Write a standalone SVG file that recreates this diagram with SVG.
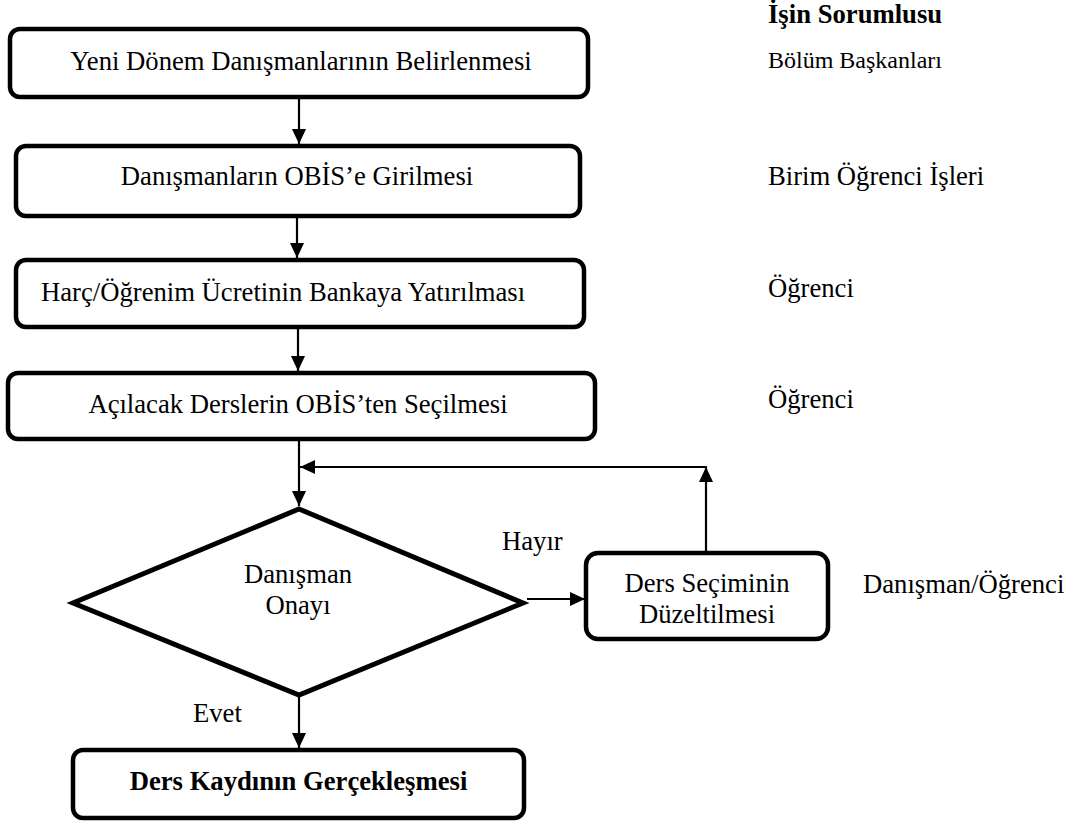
<svg xmlns="http://www.w3.org/2000/svg" width="1079" height="825" viewBox="0 0 1079 825" font-family="Liberation Serif, Times New Roman, serif">
<style>
.box{fill:#fff;stroke:#000;stroke-width:4.5}
.dia{fill:#fff;stroke:#000;stroke-width:5;stroke-linejoin:miter}
.t{font-family:'Liberation Serif','Times New Roman',Times,serif;font-size:26.67px;fill:#000}
.m{text-anchor:middle}
.b{font-weight:bold}
.s{font-size:24px}
.c{fill:none;stroke:#000;stroke-width:2.2}
</style>
<defs>
<marker id="ah" markerUnits="userSpaceOnUse" markerWidth="15" markerHeight="14" refX="15" refY="7" orient="auto">
<path d="M0,0 L15,7 L0,14 z" fill="#000"/>
</marker>
</defs>
<rect width="1079" height="825" fill="#fff"/>

<g id="connectors">
<line class="c" x1="299" y1="97" x2="299" y2="144" marker-end="url(#ah)"/>
<line class="c" x1="297" y1="216" x2="297" y2="258" marker-end="url(#ah)"/>
<line class="c" x1="298" y1="327" x2="298" y2="371" marker-end="url(#ah)"/>
<line class="c" x1="299" y1="440" x2="299" y2="506" marker-end="url(#ah)"/>
<line class="c" x1="706" y1="552" x2="706" y2="467" marker-end="url(#ah)"/>
<line class="c" x1="707" y1="467" x2="300" y2="467" marker-end="url(#ah)"/>
<line class="c" x1="527" y1="599" x2="585" y2="599" marker-end="url(#ah)"/>
<line class="c" x1="299" y1="696" x2="299" y2="748" marker-end="url(#ah)"/>
</g>

<g id="n1">
<rect class="box" x="10" y="29" width="578" height="68" rx="10"/>
<text class="t m" x="301" y="70">Yeni Dönem Danışmanlarının Belirlenmesi</text>
</g>
<g id="n2">
<rect class="box" x="16" y="146" width="564" height="70" rx="10"/>
<text class="t m" x="297" y="185">Danışmanların OBİS’e Girilmesi</text>
</g>
<g id="n3">
<rect class="box" x="16" y="260" width="568" height="67" rx="10"/>
<text class="t" x="41" y="301">Harç/Öğrenim Ücretinin Bankaya Yatırılması</text>
</g>
<g id="n4">
<rect class="box" x="8" y="373" width="587" height="66" rx="10"/>
<text class="t m" x="298" y="413">Açılacak Derslerin OBİS’ten Seçilmesi</text>
</g>
<g id="n5">
<polygon class="dia" points="299,509 523,603 299,695 73,603"/>
<text class="t m" x="298" y="583">Danışman</text>
<text class="t m" x="298" y="614">Onayı</text>
</g>
<g id="n6">
<rect class="box" x="586" y="553" width="242" height="86" rx="12"/>
<text class="t m" x="707" y="592">Ders Seçiminin</text>
<text class="t m" x="707" y="623">Düzeltilmesi</text>
</g>
<g id="n7">
<rect class="box" x="73" y="750" width="451" height="68" rx="10"/>
<text class="t m b" x="298.5" y="790">Ders Kaydının Gerçekleşmesi</text>
</g>

<g id="labels">
<text class="t" x="502" y="550">Hayır</text>
<text class="t" x="193" y="722">Evet</text>
<text class="t b" x="768" y="23">İşin Sorumlusu</text>
<text class="t s" x="768" y="68">Bölüm Başkanları</text>
<text class="t" x="768" y="185">Birim Öğrenci İşleri</text>
<text class="t" x="768" y="297">Öğrenci</text>
<text class="t" x="768" y="408">Öğrenci</text>
<text class="t" x="863" y="593">Danışman/Öğrenci</text>
</g>
</svg>
